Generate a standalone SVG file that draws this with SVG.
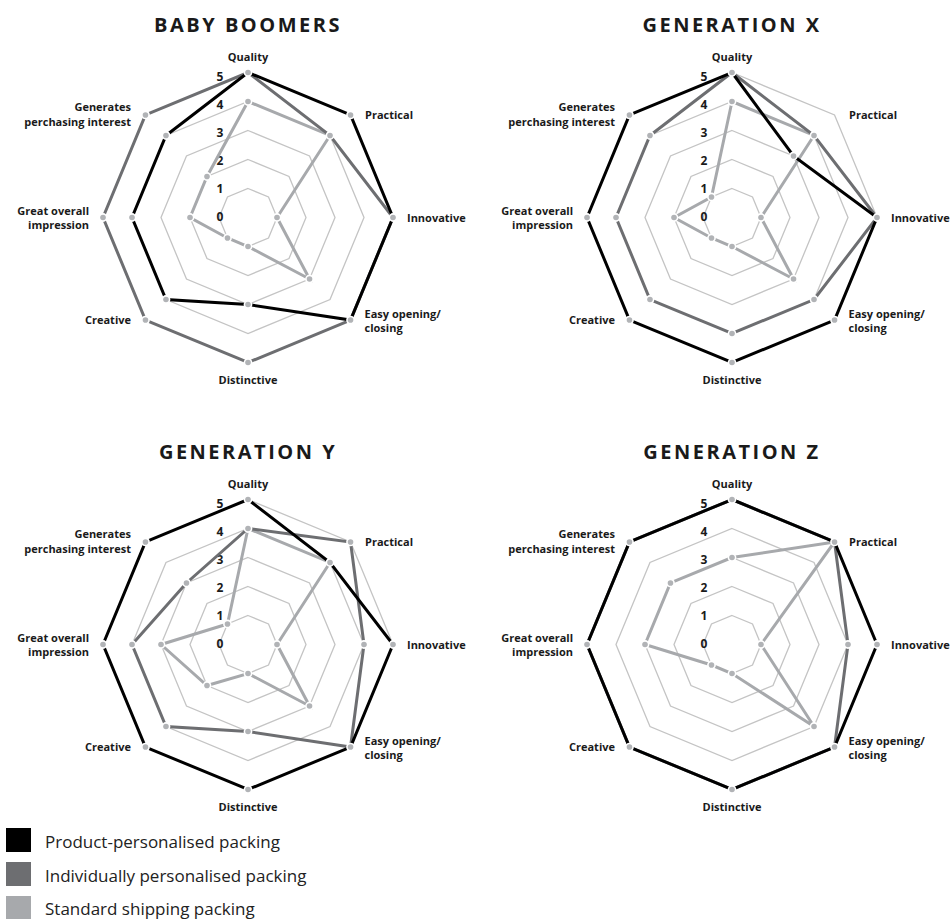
<svg xmlns="http://www.w3.org/2000/svg" xmlns:xlink="http://www.w3.org/1999/xlink" width="950" height="919" viewBox="0 0 950 919">
<style>
.grid{fill:none;stroke:#c4c4c4;stroke-width:1.3}
.s{fill:none;stroke-width:3;stroke-linejoin:miter}
.blk{stroke:#000}
.mid{stroke:#6d6e71}
.lgt{stroke:#a7a9ac}
.dot{fill:#b1b3b6;stroke:#fff;stroke-width:3.2;paint-order:stroke}
.t{font-family:"Open Sans","Liberation Sans",sans-serif;font-weight:bold;font-size:11px;fill:#1a1a1a}
.lv{font-family:"Open Sans","Liberation Sans",sans-serif;font-weight:bold;font-size:12px;fill:#1a1a1a;text-anchor:middle}
.title{font-family:"Open Sans","Liberation Sans",sans-serif;font-weight:bold;font-size:20px;letter-spacing:2.5px;fill:#1a1a1a;text-anchor:middle}
.lg{font-family:"Open Sans","Liberation Sans",sans-serif;font-size:17px;fill:#222}
.m{text-anchor:middle}.e{text-anchor:end}
</style>
<defs>
<g id="grid">
<polygon class="grid" points="0,-29 20.51,-20.51 29,0 20.51,20.51 0,29 -20.51,20.51 -29,0 -20.51,-20.51"/>
<polygon class="grid" points="0,-58 41.01,-41.01 58,0 41.01,41.01 0,58 -41.01,41.01 -58,0 -41.01,-41.01"/>
<polygon class="grid" points="0,-87 61.52,-61.52 87,0 61.52,61.52 0,87 -61.52,61.52 -87,0 -61.52,-61.52"/>
<polygon class="grid" points="0,-116 82.02,-82.02 116,0 82.02,82.02 0,116 -82.02,82.02 -116,0 -82.02,-82.02"/>
<polygon class="grid" points="0,-145 102.53,-102.53 145,0 102.53,102.53 0,145 -102.53,102.53 -145,0 -102.53,-102.53"/>
</g>
<g id="labels">
<text class="t m" x="0" y="-157">Quality</text>
<text class="t" x="117" y="-98.5">Practical</text>
<text class="t" x="159" y="4">Innovative</text>
<text class="t" x="116.5" y="100.5">Easy opening/</text>
<text class="t" x="116.5" y="114.5">closing</text>
<text class="t m" x="0" y="166.5">Distinctive</text>
<text class="t e" x="-117" y="106.5">Creative</text>
<text class="t e" x="-159" y="-3">Great overall</text>
<text class="t e" x="-159" y="11">impression</text>
<text class="t e" x="-117" y="-107">Generates</text>
<text class="t e" x="-117" y="-92">perchasing interest</text>
<text class="lv" x="-28" y="-136.5">5</text>
<text class="lv" x="-28" y="-108.5">4</text>
<text class="lv" x="-28" y="-80.5">3</text>
<text class="lv" x="-28" y="-52.5">2</text>
<text class="lv" x="-28" y="-24.5">1</text>
<text class="lv" x="-28" y="3.5">0</text>
</g>
</defs>

<g id="chart-baby-boomers" transform="translate(248,217.5)">
<text class="title" x="0" y="-186">BABY BOOMERS</text>
<use xlink:href="#grid" href="#grid"/>
<use xlink:href="#labels" href="#labels"/>
<polygon class="s lgt" points="0,-116 82.02,-82.02 29,0 61.52,61.52 0,29 -20.51,20.51 -58,0 -41.01,-41.01"/>
<polygon class="s mid" points="0,-145 82.02,-82.02 145,0 102.53,102.53 0,145 -102.53,102.53 -145,0 -102.53,-102.53"/>
<polygon class="s blk" points="0,-145 102.53,-102.53 145,0 102.53,102.53 0,87 -82.02,82.02 -116,0 -82.02,-82.02"/>
<g>
<circle class="dot" r="2.8" cx="0" cy="-145"/><circle class="dot" r="2.8" cx="102.53" cy="-102.53"/><circle class="dot" r="2.8" cx="145" cy="0"/><circle class="dot" r="2.8" cx="102.53" cy="102.53"/><circle class="dot" r="2.8" cx="0" cy="87"/><circle class="dot" r="2.8" cx="-82.02" cy="82.02"/><circle class="dot" r="2.8" cx="-116" cy="0"/><circle class="dot" r="2.8" cx="-82.02" cy="-82.02"/>
<circle class="dot" r="2.8" cx="82.02" cy="-82.02"/><circle class="dot" r="2.8" cx="0" cy="145"/><circle class="dot" r="2.8" cx="-102.53" cy="102.53"/><circle class="dot" r="2.8" cx="-145" cy="0"/><circle class="dot" r="2.8" cx="-102.53" cy="-102.53"/>
<circle class="dot" r="2.8" cx="0" cy="-116"/><circle class="dot" r="2.8" cx="29" cy="0"/><circle class="dot" r="2.8" cx="61.52" cy="61.52"/><circle class="dot" r="2.8" cx="0" cy="29"/><circle class="dot" r="2.8" cx="-20.51" cy="20.51"/><circle class="dot" r="2.8" cx="-58" cy="0"/><circle class="dot" r="2.8" cx="-41.01" cy="-41.01"/>
</g>
</g>

<g id="chart-generation-x" transform="translate(732,217.5)">
<text class="title" x="0" y="-186">GENERATION X</text>
<use xlink:href="#grid" href="#grid"/>
<use xlink:href="#labels" href="#labels"/>
<polygon class="s lgt" points="0,-116 82.02,-82.02 29,0 61.52,61.52 0,29 -20.51,20.51 -58,0 -20.51,-20.51"/>
<polygon class="s mid" points="0,-145 82.02,-82.02 145,0 82.02,82.02 0,116 -82.02,82.02 -116,0 -82.02,-82.02"/>
<polygon class="s blk" points="0,-145 61.52,-61.52 145,0 102.53,102.53 0,145 -102.53,102.53 -145,0 -102.53,-102.53"/>
<g>
<circle class="dot" r="2.8" cx="0" cy="-145"/><circle class="dot" r="2.8" cx="61.52" cy="-61.52"/><circle class="dot" r="2.8" cx="145" cy="0"/><circle class="dot" r="2.8" cx="102.53" cy="102.53"/><circle class="dot" r="2.8" cx="0" cy="145"/><circle class="dot" r="2.8" cx="-102.53" cy="102.53"/><circle class="dot" r="2.8" cx="-145" cy="0"/><circle class="dot" r="2.8" cx="-102.53" cy="-102.53"/>
<circle class="dot" r="2.8" cx="82.02" cy="-82.02"/><circle class="dot" r="2.8" cx="82.02" cy="82.02"/><circle class="dot" r="2.8" cx="0" cy="116"/><circle class="dot" r="2.8" cx="-82.02" cy="82.02"/><circle class="dot" r="2.8" cx="-116" cy="0"/><circle class="dot" r="2.8" cx="-82.02" cy="-82.02"/>
<circle class="dot" r="2.8" cx="0" cy="-116"/><circle class="dot" r="2.8" cx="29" cy="0"/><circle class="dot" r="2.8" cx="61.52" cy="61.52"/><circle class="dot" r="2.8" cx="0" cy="29"/><circle class="dot" r="2.8" cx="-20.51" cy="20.51"/><circle class="dot" r="2.8" cx="-58" cy="0"/><circle class="dot" r="2.8" cx="-20.51" cy="-20.51"/>
</g>
</g>

<g id="chart-generation-y" transform="translate(248,644.5)">
<text class="title" x="0" y="-186">GENERATION Y</text>
<use xlink:href="#grid" href="#grid"/>
<use xlink:href="#labels" href="#labels"/>
<polygon class="s lgt" points="0,-116 82.02,-82.02 29,0 61.52,61.52 0,29 -41.01,41.01 -87,0 -20.51,-20.51"/>
<polygon class="s mid" points="0,-116 102.53,-102.53 116,0 102.53,102.53 0,87 -82.02,82.02 -116,0 -61.52,-61.52"/>
<polygon class="s blk" points="0,-145 82.02,-82.02 145,0 102.53,102.53 0,145 -102.53,102.53 -145,0 -102.53,-102.53"/>
<g>
<circle class="dot" r="2.8" cx="0" cy="-145"/><circle class="dot" r="2.8" cx="82.02" cy="-82.02"/><circle class="dot" r="2.8" cx="145" cy="0"/><circle class="dot" r="2.8" cx="102.53" cy="102.53"/><circle class="dot" r="2.8" cx="0" cy="145"/><circle class="dot" r="2.8" cx="-102.53" cy="102.53"/><circle class="dot" r="2.8" cx="-145" cy="0"/><circle class="dot" r="2.8" cx="-102.53" cy="-102.53"/>
<circle class="dot" r="2.8" cx="0" cy="-116"/><circle class="dot" r="2.8" cx="102.53" cy="-102.53"/><circle class="dot" r="2.8" cx="116" cy="0"/><circle class="dot" r="2.8" cx="0" cy="87"/><circle class="dot" r="2.8" cx="-82.02" cy="82.02"/><circle class="dot" r="2.8" cx="-116" cy="0"/><circle class="dot" r="2.8" cx="-61.52" cy="-61.52"/>
<circle class="dot" r="2.8" cx="29" cy="0"/><circle class="dot" r="2.8" cx="61.52" cy="61.52"/><circle class="dot" r="2.8" cx="0" cy="29"/><circle class="dot" r="2.8" cx="-41.01" cy="41.01"/><circle class="dot" r="2.8" cx="-87" cy="0"/><circle class="dot" r="2.8" cx="-20.51" cy="-20.51"/>
</g>
</g>

<g id="chart-generation-z" transform="translate(732,644.5)">
<text class="title" x="0" y="-186">GENERATION Z</text>
<use xlink:href="#grid" href="#grid"/>
<use xlink:href="#labels" href="#labels"/>
<polygon class="s lgt" points="0,-87 102.53,-102.53 29,0 82.02,82.02 0,29 -20.51,20.51 -87,0 -61.52,-61.52"/>
<polygon class="s mid" points="0,-145 102.53,-102.53 116,0 102.53,102.53 0,145 -102.53,102.53 -145,0 -102.53,-102.53"/>
<polygon class="s blk" points="0,-145 102.53,-102.53 145,0 102.53,102.53 0,145 -102.53,102.53 -145,0 -102.53,-102.53"/>
<g>
<circle class="dot" r="2.8" cx="0" cy="-145"/><circle class="dot" r="2.8" cx="102.53" cy="-102.53"/><circle class="dot" r="2.8" cx="145" cy="0"/><circle class="dot" r="2.8" cx="102.53" cy="102.53"/><circle class="dot" r="2.8" cx="0" cy="145"/><circle class="dot" r="2.8" cx="-102.53" cy="102.53"/><circle class="dot" r="2.8" cx="-145" cy="0"/><circle class="dot" r="2.8" cx="-102.53" cy="-102.53"/>
<circle class="dot" r="2.8" cx="116" cy="0"/>
<circle class="dot" r="2.8" cx="0" cy="-87"/><circle class="dot" r="2.8" cx="29" cy="0"/><circle class="dot" r="2.8" cx="82.02" cy="82.02"/><circle class="dot" r="2.8" cx="0" cy="29"/><circle class="dot" r="2.8" cx="-20.51" cy="20.51"/><circle class="dot" r="2.8" cx="-87" cy="0"/><circle class="dot" r="2.8" cx="-61.52" cy="-61.52"/>
</g>
</g>

<g id="legend">
<rect x="6" y="828" width="25" height="24" fill="#000"/>
<text class="lg" x="45" y="848">Product-personalised packing</text>
<rect x="6" y="862" width="25" height="24" fill="#6d6e71"/>
<text class="lg" x="45" y="881.5">Individually personalised packing</text>
<rect x="6" y="896" width="25" height="24" fill="#a7a9ac"/>
<text class="lg" x="45" y="915">Standard shipping packing</text>
</g>
</svg>
